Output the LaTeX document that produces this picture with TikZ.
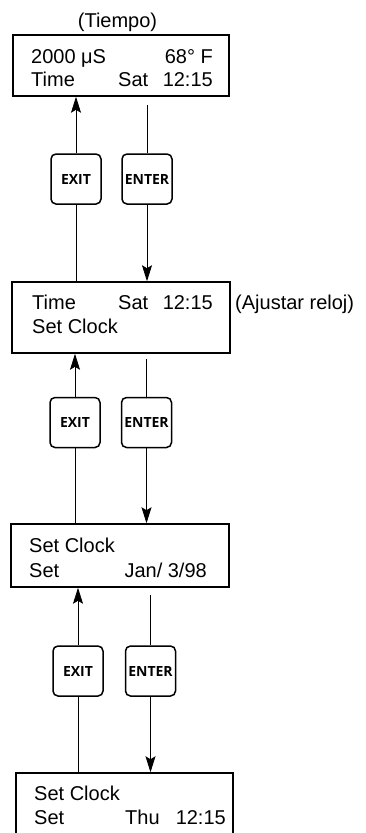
\documentclass[tikz,border=0pt]{standalone}
\usepackage{fontspec}
\setmainfont{Liberation Sans}
\newfontfamily\btnfont{Open Sans}
\usetikzlibrary{arrows.meta}
\tikzset{
  lcd/.style={draw, line width=1.5pt, inner sep=0pt},
  btn/.style={draw, line width=1.5pt, rounded corners=5pt, minimum width=50pt, minimum height=50pt, inner sep=0pt, font=\btnfont\bfseries\fontsize{14}{16}\selectfont},
  txt/.style={inner sep=0pt, font=\fontsize{20}{24}\selectfont},
  tw/.style={txt, anchor=base west},
  te/.style={txt, anchor=base east},
  conn/.style={line width=0.8pt},
  arr/.style={conn, -{Stealth[length=16pt,width=10pt,inset=3pt]}}
}
\begin{document}
\begin{tikzpicture}[x=1pt,y=-1pt]
\useasboundingbox (0,0) rectangle (365,833);
\clip (0,0) rectangle (365,833);
% LCD boxes
\node[lcd, minimum width=216pt, minimum height=61pt] (box1) at (121,65.5) {};
\node[lcd, minimum width=218pt, minimum height=71pt] (box2) at (121,317.5) {};
\node[lcd, minimum width=218pt, minimum height=63pt] (box3) at (120,555.5) {};
\node[lcd, minimum width=217pt, minimum height=70pt] (box4) at (124.5,808) {};
% buttons
\node[btn] (exit1) at (76,179) {EXIT};
\node[btn] (enter1) at (147,179) {ENTER};
\node[btn] (exit2) at (75,422.5) {EXIT};
\node[btn] (enter2) at (146.5,422.5) {ENTER};
\node[btn] (exit3) at (78,671) {EXIT};
\node[btn] (enter3) at (150.5,671) {ENTER};
% texts
\node[txt, anchor=base] (cap1) at (117.5,27) {(Tiempo)};
\node[tw] (b1a) at (31,63) {2000 μS};
\node[te] (b1b) at (213,63) {68° F};
\node[tw] (b1c) at (31,86) {Time};
\node[tw] (b1d) at (118,86) {Sat};
\node[te] (b1e) at (213,86) {12:15};
\node[tw] (b2a) at (32,309) {Time};
\node[tw] (b2b) at (118,309) {Sat};
\node[te] (b2c) at (213,309) {12:15};
\node[tw] (b2d) at (32,333) {Set Clock};
\node[tw] (cap2) at (235,309) {(Ajustar reloj)};
\node[tw] (b3a) at (29,552) {Set Clock};
\node[tw] (b3b) at (29,577) {Set};
\node[te] (b3c) at (207,577) {Jan/ 3/98};
\node[tw] (b4a) at (34,800) {Set Clock};
\node[tw] (b4b) at (34,824) {Set};
\node[tw] (b4c) at (125,824) {Thu};
\node[te] (b4d) at (226,824) {12:15};
% connectors section 1
\draw[arr] (exit1.north) -- (exit1.north |- box1.south);
\draw[conn] ([yshift=-8pt]box1.south -| enter1.north) -- (enter1.north);
\draw[arr] (enter1.south) -- (enter1.south |- box2.north);
\draw[conn] (exit1.south) -- (exit1.south |- box2.north);
% section 2
\draw[arr] (exit2.north) -- (exit2.north |- box2.south);
\draw[conn] ([yshift=-5pt]box2.south -| enter2.north) -- (enter2.north);
\draw[arr] (enter2.south) -- (enter2.south |- box3.north);
\draw[conn] (exit2.south) -- (exit2.south |- box3.north);
% section 3
\draw[arr] (exit3.north) -- (exit3.north |- box3.south);
\draw[conn] ([yshift=-7pt]box3.south -| enter3.north) -- (enter3.north);
\draw[arr] (enter3.south) -- (enter3.south |- box4.north);
\draw[conn] (exit3.south) -- (exit3.south |- box4.north);
\end{tikzpicture}
\end{document}
